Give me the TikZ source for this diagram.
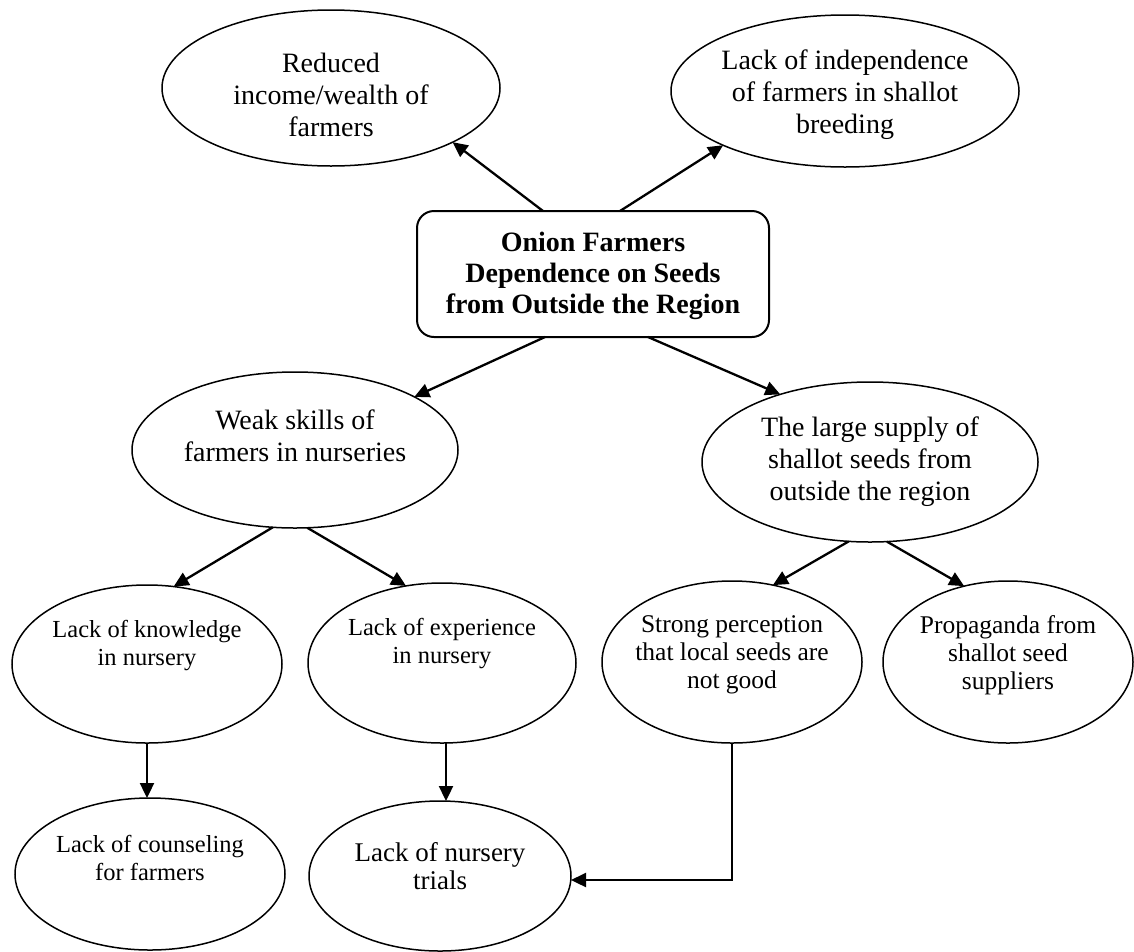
\documentclass[tikz,border=0pt]{standalone}
\usepackage{fontspec}
\setmainfont{Liberation Serif}
\usetikzlibrary{arrows.meta,shapes.geometric}
\begin{document}
\begin{tikzpicture}[x=1pt,y=-1pt,
  ell/.style={draw, ellipse, line width=1.5pt, inner sep=0pt, outer sep=0pt},
  txtA/.style={align=center, font=\fontsize{28}{32}\selectfont},
  txtB/.style={align=center, font=\fontsize{25.5}{28}\selectfont},
  txtC/.style={align=center, font=\fontsize{24.5}{28}\selectfont},
  arr/.style={line width=2.3pt, -{Triangle[length=15pt,width=14pt]}},
  mainbox/.style={draw, rectangle, rounded corners=17pt, line width=2pt, minimum width=352pt, minimum height=126pt, inner sep=0pt, outer sep=0pt}]
\useasboundingbox (0,0) rectangle (1134,951);
% nodes
\node[ell, minimum width=338pt, minimum height=156pt] (r1) at (331,88) {};
\node[txtA] at (331,95) {Reduced\\income/wealth of\\farmers};
\node[ell, minimum width=348pt, minimum height=152pt] (r2) at (845,91) {};
\node[txtA] at (845,95) {Lack of independence\\of farmers in shallot\\breeding};
\node[mainbox] (box) at (593,274) {};
\node[align=center, font=\fontsize{28}{31}\selectfont\bfseries] at (593,276) {Onion Farmers\\Dependence on Seeds\\from Outside the Region};
\node[ell, minimum width=326pt, minimum height=156pt] (w) at (295,450) {};
\node[txtA] at (295,436) {Weak skills of\\farmers in nurseries};
\node[ell, minimum width=336pt, minimum height=160pt] (s) at (870,462) {};
\node[txtA] at (870,462) {The large supply of\\shallot seeds from\\outside the region};
\node[ell, minimum width=270pt, minimum height=158pt] (k) at (147,664) {};
\node[txtC] at (147,646) {Lack of knowledge\\in nursery};
\node[ell, minimum width=268pt, minimum height=160pt] (e) at (442,663) {};
\node[txtC] at (442,644) {Lack of experience\\in nursery};
\node[ell, minimum width=260pt, minimum height=162pt] (p) at (732,662) {};
\node[txtB] at (732,655) {Strong perception\\that local seeds are\\not good};
\node[ell, minimum width=250pt, minimum height=162pt] (g) at (1008,662) {};
\node[txtB] at (1008,655) {Propaganda from\\shallot seed\\suppliers};
\node[ell, minimum width=270pt, minimum height=152pt] (c) at (150,874) {};
\node[txtC] at (150,858) {Lack of counseling\\for farmers};
\node[ell, minimum width=262pt, minimum height=150pt] (t) at (440,876) {};
\node[txtA, font=\fontsize{27}{28}\selectfont] at (440,866) {Lack of nursery\\trials};
% connectors
\draw[arr] ([xshift=-50pt]box.north) -- (r1.-24);
\draw[arr] ([xshift=27pt]box.north) -- (r2.204);
\draw[arr] ([xshift=-48pt]box.south) -- (w.24);
\draw[arr] ([xshift=55pt]box.south) -- (s.143);
\draw[arr] (w.254) -- (k.71);
\draw[arr] (w.279) -- (e.115);
\draw[arr] (s.255) -- (p.62);
\draw[arr] (s.282) -- (g.120);
\draw[arr] (k.south) -- (k.south |- c.north);
\draw[arr] ([xshift=4pt]e.south) -- ([xshift=4pt]e.south |- t.north);
\draw[arr] (p.south) |- ([yshift=-4pt]t.east);
\end{tikzpicture}
\end{document}
